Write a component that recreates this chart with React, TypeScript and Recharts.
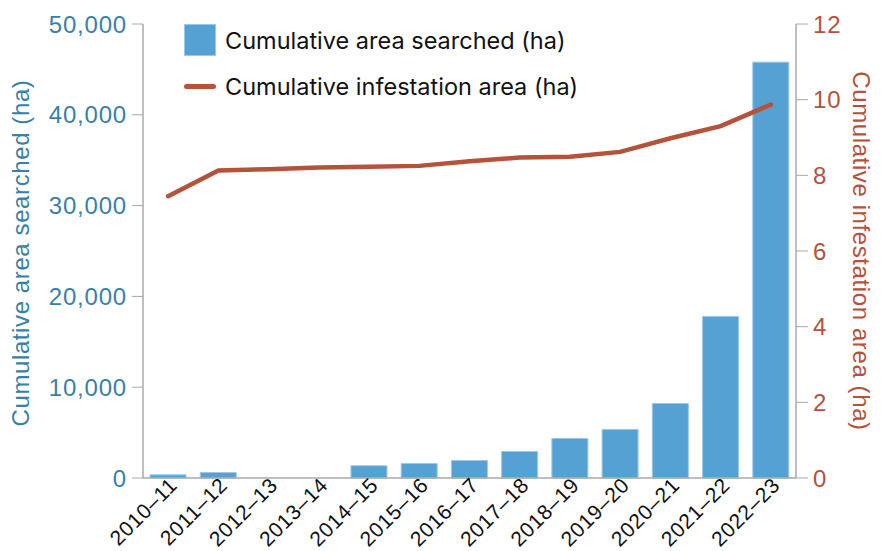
import React from 'react';
import { Bar, ComposedChart, Line, XAxis, YAxis } from 'recharts';

const YEARS = [
  '2010–11', '2011–12', '2012–13', '2013–14', '2014–15', '2015–16', '2016–17',
  '2017–18', '2018–19', '2019–20', '2020–21', '2021–22', '2022–23',
];
const AREA_SEARCHED = [350, 600, 0, 0, 1350, 1600, 1930, 2920, 4350, 5350, 8200, 17800, 45800];
const INFESTATION = [7.45, 8.13, 8.16, 8.21, 8.23, 8.25, 8.37, 8.47, 8.49, 8.62, 8.98, 9.3, 9.87];
const LEFT_TICKS = [0, 10000, 20000, 30000, 40000, 50000];
const RIGHT_TICKS = [0, 2, 4, 6, 8, 10, 12];

const BLUE = '#56a1d3';
const BLUE_TEXT = '#3a7fa6';
const RUST = '#b4523a';
const FONT = '"Liberation Sans", Arial, sans-serif';

const data = YEARS.map((year, i) => ({
  year,
  searched: AREA_SEARCHED[i],
  infestation: INFESTATION[i],
}));

function YearTick({ x, y, payload }: any) {
  return (
    <g transform={`translate(${x + 2},${y - 8})`}>
      <text
        x={0}
        y={0}
        dy={12}
        textAnchor="end"
        transform="rotate(-45)"
        fontSize={21}
        letterSpacing={0.7}
        fontFamily={FONT}
        fill="#111"
      >
        {payload.value}
      </text>
    </g>
  );
}

// legend sits inside the plot, over the empty top-left corner
function ChartLegend() {
  const row = { display: 'flex', alignItems: 'center', height: 32 } as const;
  const text = { fontFamily: 'Inter, sans-serif', fontSize: 23.5, color: '#111', marginLeft: 9, whiteSpace: 'nowrap' } as const;
  return (
    <div style={{ position: 'absolute', left: 184, top: 24 }}>
      <div style={row}>
        <div style={{ width: 32, height: 32, background: BLUE, boxShadow: 'inset 0 0 0 1px #9cc8e6' }} />
        <span style={text}>Cumulative area searched (ha)</span>
      </div>
      <div style={{ ...row, marginTop: 14 }}>
        <div style={{ width: 32, height: 5, borderRadius: 3, background: RUST }} />
        <span style={text}>Cumulative infestation area (ha)</span>
      </div>
    </div>
  );
}

export default function App() {
  return (
    <div style={{ position: 'absolute', left: 0, top: 0, width: 883, height: 551, background: '#fff' }}>
      <ComposedChart
        width={883}
        height={551}
        data={data}
        margin={{ top: 24, right: 0, bottom: 0, left: 0 }}
        barCategoryGap="14%"
      >
        <XAxis
          dataKey="year"
          height={73}
          interval={0}
          tick={<YearTick />}
          tickLine={false}
          axisLine={{ stroke: '#a8a8a8', strokeWidth: 1.5 }}
        />
        <YAxis
          yAxisId="left"
          width={143}
          domain={[0, 50000]}
          ticks={LEFT_TICKS}
          tickFormatter={(v: number) => v.toLocaleString('en-US')}
          tick={{ fill: BLUE_TEXT, fontSize: 24, fontFamily: FONT, letterSpacing: 0.8 }}
          tickSize={11}
          tickMargin={5}
          tickLine={{ stroke: '#a8a8a8' }}
          axisLine={{ stroke: '#a8a8a8', strokeWidth: 1.5 }}
          label={{
            value: 'Cumulative area searched (ha)',
            angle: -90,
            position: 'insideLeft',
            offset: 20,
            dy: 2,
            style: { textAnchor: 'middle', fill: BLUE_TEXT, fontSize: 24, letterSpacing: 0.6, fontFamily: FONT },
          }}
        />
        <YAxis
          yAxisId="right"
          orientation="right"
          width={87}
          domain={[0, 12]}
          ticks={RIGHT_TICKS}
          tick={{ fill: RUST, fontSize: 24, fontFamily: FONT, letterSpacing: 0.8 }}
          tickSize={12}
          tickMargin={5}
          tickLine={{ stroke: '#a8a8a8' }}
          axisLine={{ stroke: '#a8a8a8', strokeWidth: 1.5 }}
          label={{
            value: 'Cumulative infestation area (ha)',
            angle: 90,
            position: 'insideRight',
            offset: 21,
            dy: 0,
            style: { textAnchor: 'middle', fill: RUST, fontSize: 24, letterSpacing: 0.6, fontFamily: FONT },
          }}
        />
        <Bar
          yAxisId="left"
          dataKey="searched"
          name="Cumulative area searched (ha)"
          fill={BLUE}
          stroke="#9cc8e6"
          strokeWidth={1}
          isAnimationActive={false}
        />
        <Line
          yAxisId="right"
          dataKey="infestation"
          name="Cumulative infestation area (ha)"
          type="linear"
          stroke={RUST}
          strokeWidth={4.5}
          strokeLinecap="round"
          dot={false}
          activeDot={false}
          isAnimationActive={false}
        />
      </ComposedChart>
      <ChartLegend />
    </div>
  );
}
